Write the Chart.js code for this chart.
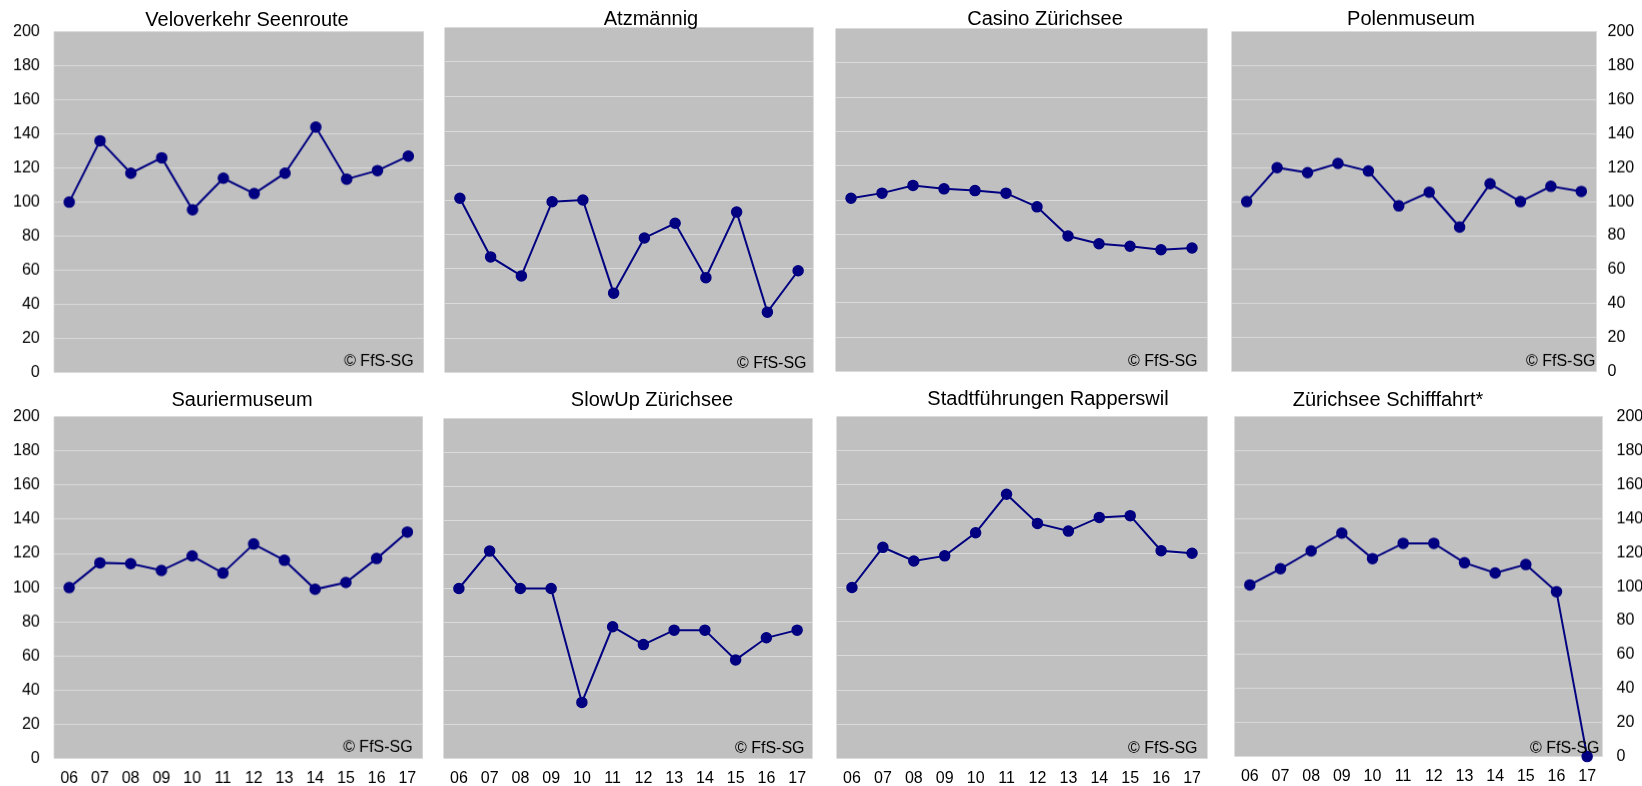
<!DOCTYPE html>
<html>
<head>
<meta charset="utf-8">
<script src="https://cdn.jsdelivr.net/npm/chart.js@4.4.1/dist/chart.umd.min.js"></script>
<style>
  html, body { margin: 0; padding: 0; background: #fff; }
  body { width: 1642px; height: 786px; position: relative; overflow: hidden; font-family: "Liberation Sans", Arial, sans-serif; }
  .panel { position: absolute; }
  .title { position: absolute; font-size: 20px; line-height: 20px; white-space: nowrap; transform: translateX(-50%); color: #000; }
</style>
</head>
<body>
<script>
// years 2006 - 2017, index 2006 = 100
const years = ["06", "07", "08", "09", "10", "11", "12", "13", "14", "15", "16", "17"];
const yTicks = [0, 20, 40, 60, 80, 100, 120, 140, 160, 180, 200];

const veloSeenroute = [100, 136, 117, 126, 95.5, 114, 105, 117, 144, 113.5, 118.5, 127];
const atzmaennig = [101, 67, 56, 99, 100, 46, 78, 86.5, 55, 93, 35, 59];
const casinoZuerichsee = [101, 104, 108.5, 106.5, 105.5, 104, 96, 79, 74.5, 73, 71, 72];
const polenmuseum = [100, 120, 117, 122.5, 118, 97.5, 105.5, 85, 110.5, 100, 109, 106];
const sauriermuseum = [100, 114.5, 114, 110, 118.5, 108.5, 125.5, 116, 99, 103, 117, 132.5];
const slowUp = [100, 122, 100, 100, 33, 77.5, 67, 75.5, 75.5, 58, 71, 75.5];
const stadtfuehrungen = [100, 123.5, 115.5, 118.5, 132, 154.5, 137.5, 133, 141, 142, 121.5, 120];
const schifffahrt = [101, 110.5, 121, 131.5, 116.5, 125.5, 125.5, 114, 108, 113, 97, 0];

const titles = ["Veloverkehr Seenroute", "Atzmännig", "Casino Zürichsee", "Polenmuseum",
  "Sauriermuseum", "SlowUp Zürichsee", "Stadtführungen Rapperswil", "Zürichsee Schifffahrt*"];
const series = [veloSeenroute, atzmaennig, casinoZuerichsee, polenmuseum,
  sauriermuseum, slowUp, stadtfuehrungen, schifffahrt];
const credit = "© FfS-SG";

// plot rectangles on the page and where the titles sit
const layout = [
  { l: 54, t: 32, r: 423, b: 372, axis: "left", xl: false, tx: 247, ty: 26, ci: 10, cb: 7 },
  { l: 444, t: 27, r: 813, b: 372, axis: "none", xl: false, tx: 651, ty: 25, ci: 7, cb: 5 },
  { l: 835, t: 28, r: 1207, b: 371, axis: "none", xl: false, tx: 1045, ty: 25, ci: 10, cb: 6 },
  { l: 1231, t: 32, r: 1596, b: 371, axis: "right", xl: false, tx: 1411, ty: 25, ci: 1, cb: 6, pad: 11 },
  { l: 54, t: 417, r: 422, b: 758, axis: "left", xl: true, tx: 242, ty: 406, ci: 10, cb: 7 },
  { l: 443, t: 418, r: 812, b: 758, axis: "none", xl: true, tx: 652, ty: 406, ci: 8, cb: 6 },
  { l: 836, t: 416, r: 1207, b: 758, axis: "none", xl: true, tx: 1048, ty: 405, ci: 10, cb: 6 },
  { l: 1234, t: 417, r: 1602, b: 756, axis: "right", xl: true, tx: 1388, ty: 406, ci: 3, cb: 4, pad: 14 }
];

const font = "'Liberation Sans', Arial, sans-serif";
const navy = "#000080";

const plotBackground = {
  id: "plotBackground",
  beforeDraw(chart) {
    const a = chart.chartArea;
    const ctx = chart.ctx;
    ctx.save();
    ctx.fillStyle = "#c0c0c0";
    ctx.fillRect(a.left, a.top, a.right - a.left, a.bottom - a.top);
    ctx.restore();
  }
};

const creditText = {
  id: "creditText",
  afterDatasetsDraw(chart, args, opts) {
    const a = chart.chartArea;
    const ctx = chart.ctx;
    ctx.save();
    ctx.font = "16px " + font;
    ctx.fillStyle = "#000";
    ctx.textAlign = "right";
    ctx.textBaseline = "alphabetic";
    ctx.fillText(credit, a.right - opts.inset, a.bottom - opts.drop);
    ctx.restore();
  }
};

function makePanel(i) {
  const p = layout[i];
  const div = document.createElement("div");
  div.className = "panel";
  const w = p.r - p.l, h = p.b - p.t;
  div.style.width = (w + 60) + "px";
  div.style.height = (h + 40) + "px";
  const canvas = document.createElement("canvas");
  div.appendChild(canvas);
  document.body.appendChild(div);

  const t = document.createElement("div");
  t.className = "title";
  t.textContent = titles[i];
  t.style.left = p.tx + "px";
  t.style.top = (p.ty - 17) + "px";
  document.body.appendChild(t);

  const chart = new Chart(canvas, {
    type: "line",
    data: {
      labels: years,
      datasets: [{
        data: series[i],
        borderColor: navy,
        borderWidth: 2,
        pointBackgroundColor: navy,
        pointBorderColor: navy,
        pointRadius: 5,
        pointBorderWidth: 1.5,
        tension: 0,
        clip: false
      }]
    },
    options: {
      responsive: true,
      maintainAspectRatio: false,
      animation: false,
      events: [],
      layout: { padding: 0 },
      scales: {
        x: {
          offset: true,
          grid: { display: false, drawTicks: false },
          border: { display: false },
          ticks: { display: p.xl, padding: 10, color: "#000", font: { family: font, size: 16 }, maxRotation: 0, autoSkip: false },
          afterFit: p.xl ? undefined : (s) => { s.height = 0; }
        },
        y: {
          position: p.axis === "right" ? "right" : "left",
          min: 0,
          max: 200,
          afterBuildTicks: (s) => { s.ticks = yTicks.map((v) => ({ value: v })); },
          grid: { color: "#dadada", lineWidth: 1, drawTicks: false },
          border: { display: false },
          ticks: { display: p.axis !== "none", padding: p.pad || 14, color: "#000", font: { family: font, size: 16 } },
          afterFit: p.axis === "none" ? (s) => { s.width = 0; } : undefined
        }
      },
      plugins: {
        legend: { display: false },
        tooltip: { enabled: false },
        title: { display: false },
        creditText: { inset: p.ci, drop: p.cb }
      }
    },
    plugins: [plotBackground, creditText]
  });

  // fit the canvas so the plot area lands exactly on the page rectangle
  let a = chart.chartArea;
  div.style.width = (w + 60 + (w - (a.right - a.left))) + "px";
  div.style.height = (h + 40 + (h - (a.bottom - a.top))) + "px";
  chart.resize();
  a = chart.chartArea;
  div.style.left = (p.l - a.left) + "px";
  div.style.top = (p.t - a.top) + "px";
}

for (let i = 0; i < layout.length; i++) makePanel(i);
</script>
</body>
</html>
